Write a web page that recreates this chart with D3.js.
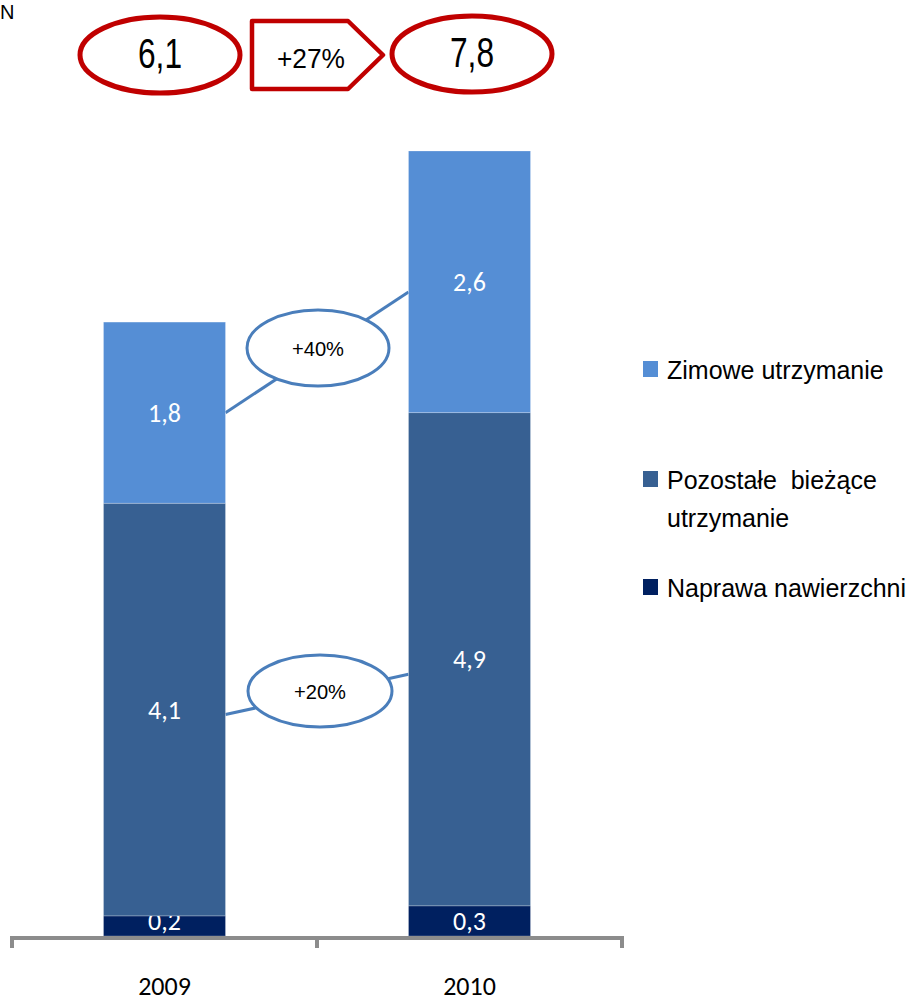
<!DOCTYPE html>
<html>
<head>
<meta charset="utf-8">
<script src="https://cdn.jsdelivr.net/npm/d3@7"></script>
<style>
  html, body { margin: 0; padding: 0; background: #fff; }
  svg { display: block; }
</style>
</head>
<body>
<svg id="chart" width="917" height="1002"></svg>
<script>
// ---------- data ----------
const years = ["2009", "2010"];
const seriesNames = ["Naprawa nawierzchni", "Pozostałe bieżące utrzymanie", "Zimowe utrzymanie"];
const naprawa = [0.2, 0.3];
const pozostale = [4.1, 4.9];
const zimowe = [1.8, 2.6];
const totals = ["6,1", "7,8"];
const totalGrowth = "+27%";
const segmentGrowth = { zimowe: "+40%", pozostale: "+20%" };
const unitLabel = "N";

const colors = ["#002060", "#376092", "#558ED5"];
const fmt = v => String(v).replace(".", ",");

// ---------- layout ----------
const svg = d3.select("#chart");
const baseY = 936;
const x = d3.scaleBand().domain(years).range([12, 622]).padding(0);
const barW = 122;
const y = d3.scaleLinear().domain([0, 7.8]).range([baseY, 151]);

const rows = years.map((yr, i) => ({ year: yr, naprawa: naprawa[i], pozostale: pozostale[i], zimowe: zimowe[i] }));
const keys = ["naprawa", "pozostale", "zimowe"];
const stack = d3.stack().keys(keys)(rows);

const barX = yr => x(yr) + x.bandwidth() / 2 - barW / 2;

// ---------- callout lines (behind ellipses) ----------
const callouts = [
  { from: 5.2, to: 6.4, label: segmentGrowth.zimowe, cx: 318, cy: 348, rx: 71, ry: 38 },
  { from: 2.2, to: 2.6, label: segmentGrowth.pozostale, cx: 320, cy: 691, rx: 72, ry: 36 }
];
const cg = svg.append("g");
callouts.forEach(c => {
  cg.append("line")
    .attr("x1", barX("2009") + barW).attr("y1", y(c.from))
    .attr("x2", barX("2010")).attr("y2", y(c.to))
    .attr("stroke", "#4A7EBB").attr("stroke-width", 3);
  cg.append("ellipse")
    .attr("cx", c.cx).attr("cy", c.cy).attr("rx", c.rx).attr("ry", c.ry)
    .attr("fill", "#fff").attr("stroke", "#4A7EBB").attr("stroke-width", 3);
  cg.append("text")
    .attr("x", c.cx).attr("y", c.cy + 8)
    .attr("text-anchor", "middle")
    .attr("font-family", "'Liberation Sans', Arial, sans-serif")
    .attr("font-size", 21).attr("fill", "#000")
    .attr("textLength", 52).attr("lengthAdjust", "spacingAndGlyphs")
    .text(c.label);
});

// ---------- bars ----------
const bg = svg.append("g");
stack.forEach((layer, li) => {
  bg.selectAll(null).data(layer).enter().append("rect")
    .attr("x", d => barX(d.data.year))
    .attr("y", d => y(d[1]))
    .attr("width", barW)
    .attr("height", d => y(d[0]) - y(d[1]))
    .attr("fill", colors[li])
    .attr("stroke", "#ffffff").attr("stroke-opacity", 0.3).attr("stroke-width", 0.8);
  bg.selectAll(null).data(layer).enter().append("text")
    .attr("x", d => barX(d.data.year) + barW / 2)
    .attr("y", d => Math.min((y(d[0]) + y(d[1])) / 2 + 9, y(d[0]) - 6))
    .attr("text-anchor", "middle")
    .attr("font-family", "Carlito, Lato, sans-serif")
    .attr("font-size", 26).attr("fill", "#fff")
    .text(d => fmt(d.data[keys[li]]));
});

// ---------- axis ----------
const axisG = svg.append("g").attr("transform", `translate(0,${baseY + 2})`);
const bounds = [x(years[0]), ...years.map(yr => x(yr) + x.bandwidth())];
axisG.append("line").attr("x1", bounds[0]).attr("x2", bounds[bounds.length - 1])
  .attr("y1", 0).attr("y2", 0).attr("stroke", "#8C8C8C").attr("stroke-width", 4);
axisG.selectAll(null).data(bounds).enter().append("line")
  .attr("x1", d => d).attr("x2", d => d).attr("y1", -2).attr("y2", 10)
  .attr("stroke", "#8C8C8C").attr("stroke-width", 4);
const xAxis = d3.axisBottom(x).tickSize(0).tickPadding(0);
const ax = svg.append("g").attr("transform", `translate(0,${baseY})`).call(xAxis);
ax.select(".domain").remove();
ax.selectAll("text")
  .attr("y", 59).attr("dy", 0)
  .attr("font-family", "Carlito, Lato, sans-serif")
  .attr("font-size", 26).attr("fill", "#000");

// ---------- top totals ----------
const tg = svg.append("g");
const red = "#C00000";
const totalPos = [{ cx: 160, cy: 55 }, { cx: 472, cy: 54 }];
totals.forEach((t, i) => {
  tg.append("ellipse").attr("cx", totalPos[i].cx).attr("cy", totalPos[i].cy)
    .attr("rx", 80).attr("ry", 38).attr("fill", "#fff")
    .attr("stroke", red).attr("stroke-width", 5);
  tg.append("text").attr("x", totalPos[i].cx).attr("y", totalPos[i].cy + 13)
    .attr("text-anchor", "middle")
    .attr("font-family", "'Liberation Sans', Arial, sans-serif")
    .attr("font-size", 42).attr("fill", "#000")
    .attr("textLength", 44).attr("lengthAdjust", "spacingAndGlyphs")
    .text(t);
});
const arrowPath = d3.path();
arrowPath.moveTo(252, 21);
arrowPath.lineTo(348, 21);
arrowPath.lineTo(383, 55);
arrowPath.lineTo(348, 89);
arrowPath.lineTo(252, 89);
arrowPath.closePath();
tg.append("path").attr("d", arrowPath.toString())
  .attr("fill", "#fff").attr("stroke", red).attr("stroke-width", 4.5)
  .attr("stroke-linejoin", "round");
tg.append("text").attr("x", 311).attr("y", 68).attr("text-anchor", "middle")
  .attr("font-family", "'Liberation Sans', Arial, sans-serif")
  .attr("font-size", 28).attr("fill", "#000")
  .attr("textLength", 68).attr("lengthAdjust", "spacingAndGlyphs")
  .text(totalGrowth);

// unit label (only its last letter is visible in the reference)
svg.append("text").attr("x", 0).attr("y", 19)
  .attr("font-family", "'Liberation Sans', Arial, sans-serif")
  .attr("font-size", 20).attr("fill", "#000").text(unitLabel);

// ---------- legend ----------
const legendItems = [
  { lines: ["Zimowe utrzymanie"], color: colors[2], y: 379 },
  { lines: ["Pozostałe  bieżące", "utrzymanie"], color: colors[1], y: 489 },
  { lines: ["Naprawa nawierzchni"], color: colors[0], y: 597 }
];
const lg = svg.append("g");
legendItems.forEach(it => {
  lg.append("rect").attr("x", 643).attr("y", it.y - 18).attr("width", 15).attr("height", 16)
    .attr("fill", it.color);
  const t = lg.append("text").attr("x", 667).attr("y", it.y)
    .attr("font-family", "'Liberation Sans', Arial, sans-serif")
    .attr("font-size", 25).attr("fill", "#000")
    .style("white-space", "pre");
  it.lines.forEach((ln, k) => {
    t.append("tspan").attr("x", 667).attr("dy", k === 0 ? 0 : 38).text(ln);
  });
});
</script>
</body>
</html>
